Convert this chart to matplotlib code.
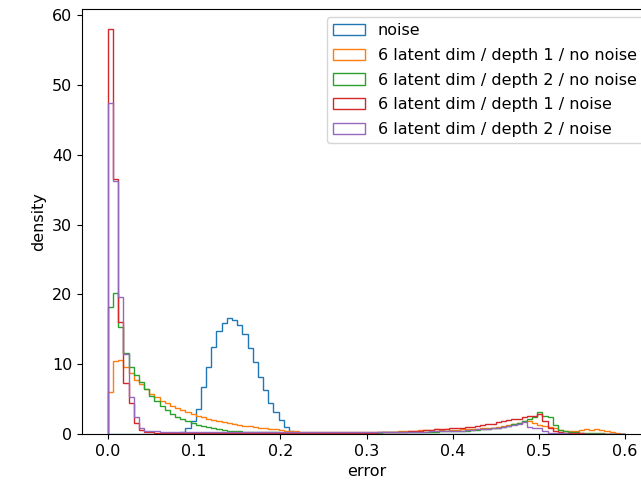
import matplotlib
matplotlib.use("Agg")
import matplotlib.pyplot as plt
import numpy as np

plt.rcParams["font.size"] = 11.5

# histogram bins: 100 bins between 0 and 0.6
bin_lo = 0.0
bin_hi = 0.6
n_bins = 100

labels = [
    "noise",
    "6 latent dim / depth 1 / no noise",
    "6 latent dim / depth 2 / no noise",
    "6 latent dim / depth 1 / noise",
    "6 latent dim / depth 2 / noise",
]

# density per bin
noise = [
    0, 0, 0, 0, 0, 0, 0, 0, 0, 0,
    0, 0, 0, 0.1, 0.3, 0.8, 1.8, 3.6, 6.8, 9.6,
    12.4, 14.7, 15.9, 16.6, 16.3, 15.6, 14.3, 12.3, 10.3, 8.2,
    6.3, 4.4, 3.1, 2.0, 1.0, 0.4, 0.15, 0.05, 0, 0,
    0, 0, 0, 0, 0, 0, 0, 0, 0, 0,
    0, 0, 0, 0, 0, 0, 0, 0, 0, 0,
    0, 0, 0, 0, 0, 0, 0, 0, 0, 0,
    0, 0, 0, 0, 0, 0, 0, 0, 0, 0,
    0, 0, 0, 0, 0, 0, 0, 0, 0, 0,
    0, 0, 0, 0, 0, 0, 0, 0, 0, 0,
]

d1_no_noise = [
    6.0, 10.5, 10.6, 9.6, 8.7, 7.8, 7.1, 6.4, 5.8, 5.3,
    4.8, 4.4, 4.0, 3.7, 3.4, 3.1, 2.9, 2.6, 2.4, 2.2,
    2.0, 1.85, 1.7, 1.55, 1.4, 1.3, 1.2, 1.1, 1.0, 0.9,
    0.8, 0.75, 0.65, 0.6, 0.5, 0.45, 0.4, 0.35, 0.3, 0.3,
    0.28, 0.27, 0.25, 0.25, 0.24, 0.23, 0.23, 0.22, 0.22, 0.22,
    0.22, 0.25, 0.27, 0.3, 0.32, 0.35, 0.38, 0.4, 0.45, 0.5,
    0.55, 0.6, 0.6, 0.65, 0.6, 0.65, 0.6, 0.6, 0.65, 0.7,
    0.7, 0.75, 0.8, 0.85, 0.9, 1.0, 1.1, 1.25, 1.4, 1.6,
    1.8, 1.8, 1.6, 1.3, 1.2, 1.0, 0.8, 0.6, 0.5, 0.45,
    0.5, 0.6, 0.7, 0.6, 0.7, 0.6, 0.4, 0.25, 0.1, 0.05,
]

d2_no_noise = [
    18.2, 20.2, 15.3, 11.6, 9.6, 8.5, 7.5, 6.4, 5.5, 4.7,
    4.0, 3.4, 2.9, 2.5, 2.1, 1.8, 1.55, 1.3, 1.1, 0.95,
    0.8, 0.7, 0.6, 0.5, 0.45, 0.4, 0.35, 0.3, 0.28, 0.25,
    0.25, 0.23, 0.22, 0.2, 0.2, 0.2, 0.2, 0.2, 0.2, 0.2,
    0.2, 0.2, 0.2, 0.2, 0.2, 0.2, 0.2, 0.2, 0.2, 0.2,
    0.2, 0.2, 0.2, 0.22, 0.22, 0.23, 0.25, 0.25, 0.27, 0.3,
    0.3, 0.32, 0.35, 0.35, 0.38, 0.4, 0.4, 0.42, 0.45, 0.5,
    0.55, 0.6, 0.65, 0.7, 0.8, 0.9, 1.0, 1.2, 1.4, 1.6,
    1.9, 2.2, 2.4, 3.1, 2.6, 2.4, 1.3, 0.6, 0.4, 0.3,
    0.25, 0.2, 0.2, 0.15, 0.1, 0.1, 0.05, 0.03, 0.02, 0.0,
]

d1_noise = [
    58.0, 36.5, 16.0, 7.3, 4.4, 1.6, 0.6, 0.35, 0.25, 0.2,
    0.18, 0.15, 0.15, 0.15, 0.15, 0.15, 0.15, 0.15, 0.15, 0.15,
    0.15, 0.15, 0.15, 0.15, 0.15, 0.15, 0.15, 0.15, 0.15, 0.15,
    0.15, 0.15, 0.15, 0.15, 0.15, 0.15, 0.15, 0.15, 0.15, 0.15,
    0.15, 0.15, 0.15, 0.15, 0.15, 0.15, 0.15, 0.15, 0.15, 0.18,
    0.18, 0.2, 0.22, 0.25, 0.27, 0.3, 0.32, 0.35, 0.4, 0.45,
    0.5, 0.55, 0.6, 0.65, 0.7, 0.75, 0.8, 0.85, 0.9, 1.0,
    1.05, 1.1, 1.25, 1.4, 1.5, 1.7, 1.8, 2.0, 2.1, 2.2,
    2.4, 2.6, 2.6, 2.9, 1.8, 0.9, 0.45, 0.3, 0.2, 0.15,
    0.1, 0.1, 0.05, 0.05, 0.03, 0.02, 0.01, 0, 0, 0,
]

d2_noise = [
    47.5, 36.3, 19.7, 11.5, 5.3, 2.5, 0.8, 0.5, 0.45, 0.4,
    0.35, 0.3, 0.3, 0.3, 0.3, 0.3, 0.3, 0.3, 0.3, 0.3,
    0.3, 0.3, 0.3, 0.3, 0.3, 0.3, 0.3, 0.3, 0.3, 0.3,
    0.3, 0.3, 0.3, 0.3, 0.3, 0.3, 0.3, 0.3, 0.3, 0.3,
    0.3, 0.3, 0.3, 0.3, 0.3, 0.3, 0.3, 0.3, 0.3, 0.3,
    0.3, 0.3, 0.3, 0.3, 0.3, 0.3, 0.3, 0.3, 0.32, 0.35,
    0.35, 0.35, 0.38, 0.4, 0.4, 0.42, 0.45, 0.5, 0.5, 0.55,
    0.6, 0.65, 0.7, 0.75, 0.8, 0.9, 1.0, 1.1, 1.3, 1.5,
    1.7, 1.0, 0.9, 0.8, 0.5, 0.2, 0.15, 0.1, 0.08, 0.05,
    0.05, 0.03, 0.02, 0.01, 0, 0, 0, 0, 0, 0,
]

series = [noise, d1_no_noise, d2_no_noise, d1_noise, d2_noise]

edges = np.linspace(bin_lo, bin_hi, n_bins + 1)

fig = plt.figure(figsize=(6.41, 4.82), dpi=100)
# axes run past the right edge, as in the cropped original
ax = fig.add_axes([82 / 641, 48 / 482, 569 / 641, 425 / 482])

for vals, lab in zip(series, labels):
    ax.hist(edges[:-1], bins=edges, weights=vals, histtype="step", label=lab)

ax.set_xlabel("error")
ax.set_ylabel("density")
ax.legend(loc="upper right", labelspacing=0.6)

fig.savefig("out.png", dpi=100)
